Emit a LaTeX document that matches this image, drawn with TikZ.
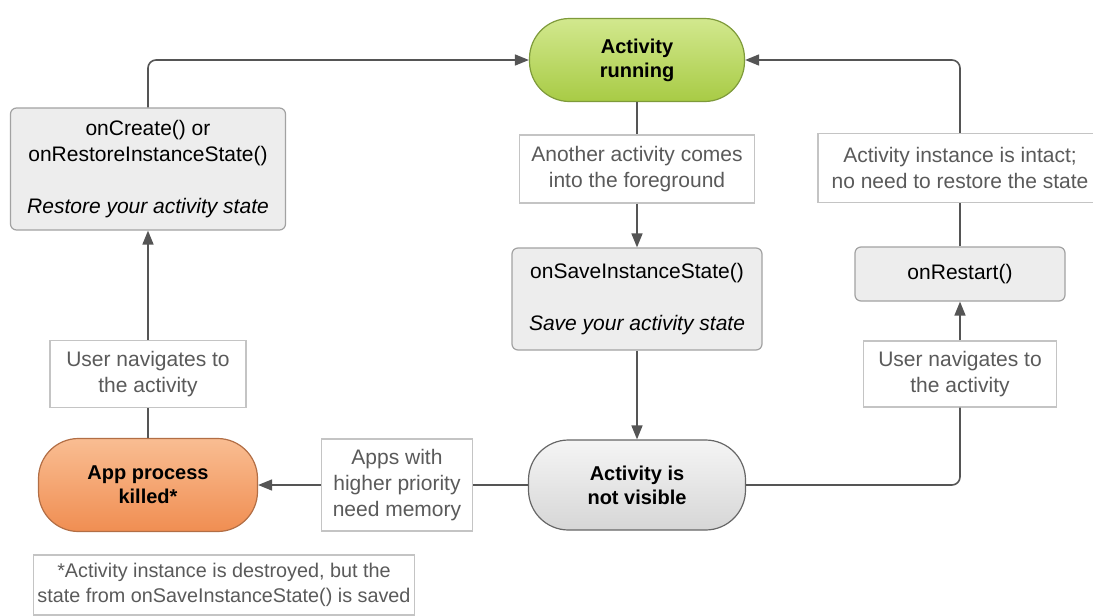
\documentclass[tikz,border=0pt]{standalone}
\usepackage{fontspec}
\setmainfont{Liberation Sans}
\usetikzlibrary{arrows.meta,calc,positioning}
\definecolor{wiregray}{HTML}{555555}
\definecolor{cuetext}{HTML}{5A5A5A}
\definecolor{cueline}{HTML}{C4C4C4}
\definecolor{methfill}{HTML}{EDEDED}
\definecolor{methline}{HTML}{A2A2A2}
\definecolor{runtop}{HTML}{D2E88E}
\definecolor{runbot}{HTML}{A8CB45}
\definecolor{runline}{HTML}{7E9A3A}
\definecolor{killtop}{HTML}{F9BD92}
\definecolor{killbot}{HTML}{F08E52}
\definecolor{killline}{HTML}{B26E45}
\tikzset{pin/.style={-{Triangle[length=7pt, width=5.5pt]}, line width=0.8pt, draw=wiregray, fill=none, rounded corners=4pt},
  wire/.style={line width=0.8pt, draw=wiregray, rounded corners=4pt},
  pill/.style={draw, line width=0.6pt, rounded corners=20pt, font=\bfseries, align=center},
  method/.style={draw=methline, fill=methfill, line width=0.6pt, rounded corners=3pt, align=center},
  cue/.style={draw=cueline, fill=white, line width=0.6pt, text=cuetext, align=center, inner sep=2pt}}

\begin{document}
\begin{tikzpicture}[x=0.5pt, y=-0.5pt, font=\fontsize{10.5}{13}\selectfont]
  \useasboundingbox (0,0) rectangle (1093,616);
  % states
  \node[pill, draw=runline, top color=runtop, bottom color=runbot,
    minimum width=107.5pt, minimum height=41.5pt] (run) at (637,60) {Activity\\running};
  \node[pill, draw=gray!80!black, top color=gray!8, bottom color=gray!32,
    minimum width=108.5pt, minimum height=45pt] (hidden) at (637,485) {Activity is\\not visible};
  \node[pill, draw=killline, top color=killtop, bottom color=killbot,
    minimum width=109.5pt, minimum height=46.5pt] (killed) at (148,485) {App process\\killed*};
  % callbacks
  \node[method, minimum width=137.5pt, minimum height=61pt] (create) at (148,169)
    {onCreate() or\\onRestoreInstanceState()\\[13pt]\itshape Restore your activity state};
  \node[method, minimum width=125pt, minimum height=51pt] (save) at (637,299)
    {onSaveInstanceState()\\[13pt]\itshape Save your activity state};
  \node[method, minimum width=105pt, minimum height=27pt] (restart) at (960,274) {onRestart()};
  % conditions
  \node[cue, minimum width=117.5pt, minimum height=34pt] (another) at (637,169) {Another activity comes\\into the foreground};
  \node[cue, minimum width=142pt, minimum height=34.5pt] (intact) at (960,168) {Activity instance is intact;\\no need to restore the state};
  \node[cue, minimum width=96.5pt, minimum height=33pt] (navR) at (960,374) {User navigates to\\the activity};
  \node[cue, minimum width=98pt, minimum height=33.5pt] (navL) at (148,374) {User navigates to\\the activity};
  \node[cue, minimum width=75.5pt, minimum height=46pt] (apps) at (397,485) {Apps with\\higher priority\\need memory};
  \node[cue, minimum width=189pt, minimum height=30pt, font=\fontsize{9.9}{12.5}\selectfont] (note) at (224,585)
    {*Activity instance is destroyed, but the\\state from onSaveInstanceState() is saved};

  \draw[wire] (run.south) -- (another.north);
  \draw[pin] (another.south) -- (save.north);
  \draw[pin] (save.south) -- (hidden.north);
  \draw[wire] (hidden.west) -- (apps.east);
  \draw[pin] (apps.west) -- (killed.east);
  \draw[wire] (killed.north) -- (navL.south);
  \draw[pin] (navL.north) -- (create.south);
  \draw[pin] (create.north) |- (run.west);
  \draw[wire] (hidden.east) -| (navR.south);
  \draw[pin] (navR.north) -- (restart.south);
  \draw[wire] (restart.north) -- (intact.south);
  \draw[pin] (intact.north) |- (run.east);
\end{tikzpicture}
\end{document}
